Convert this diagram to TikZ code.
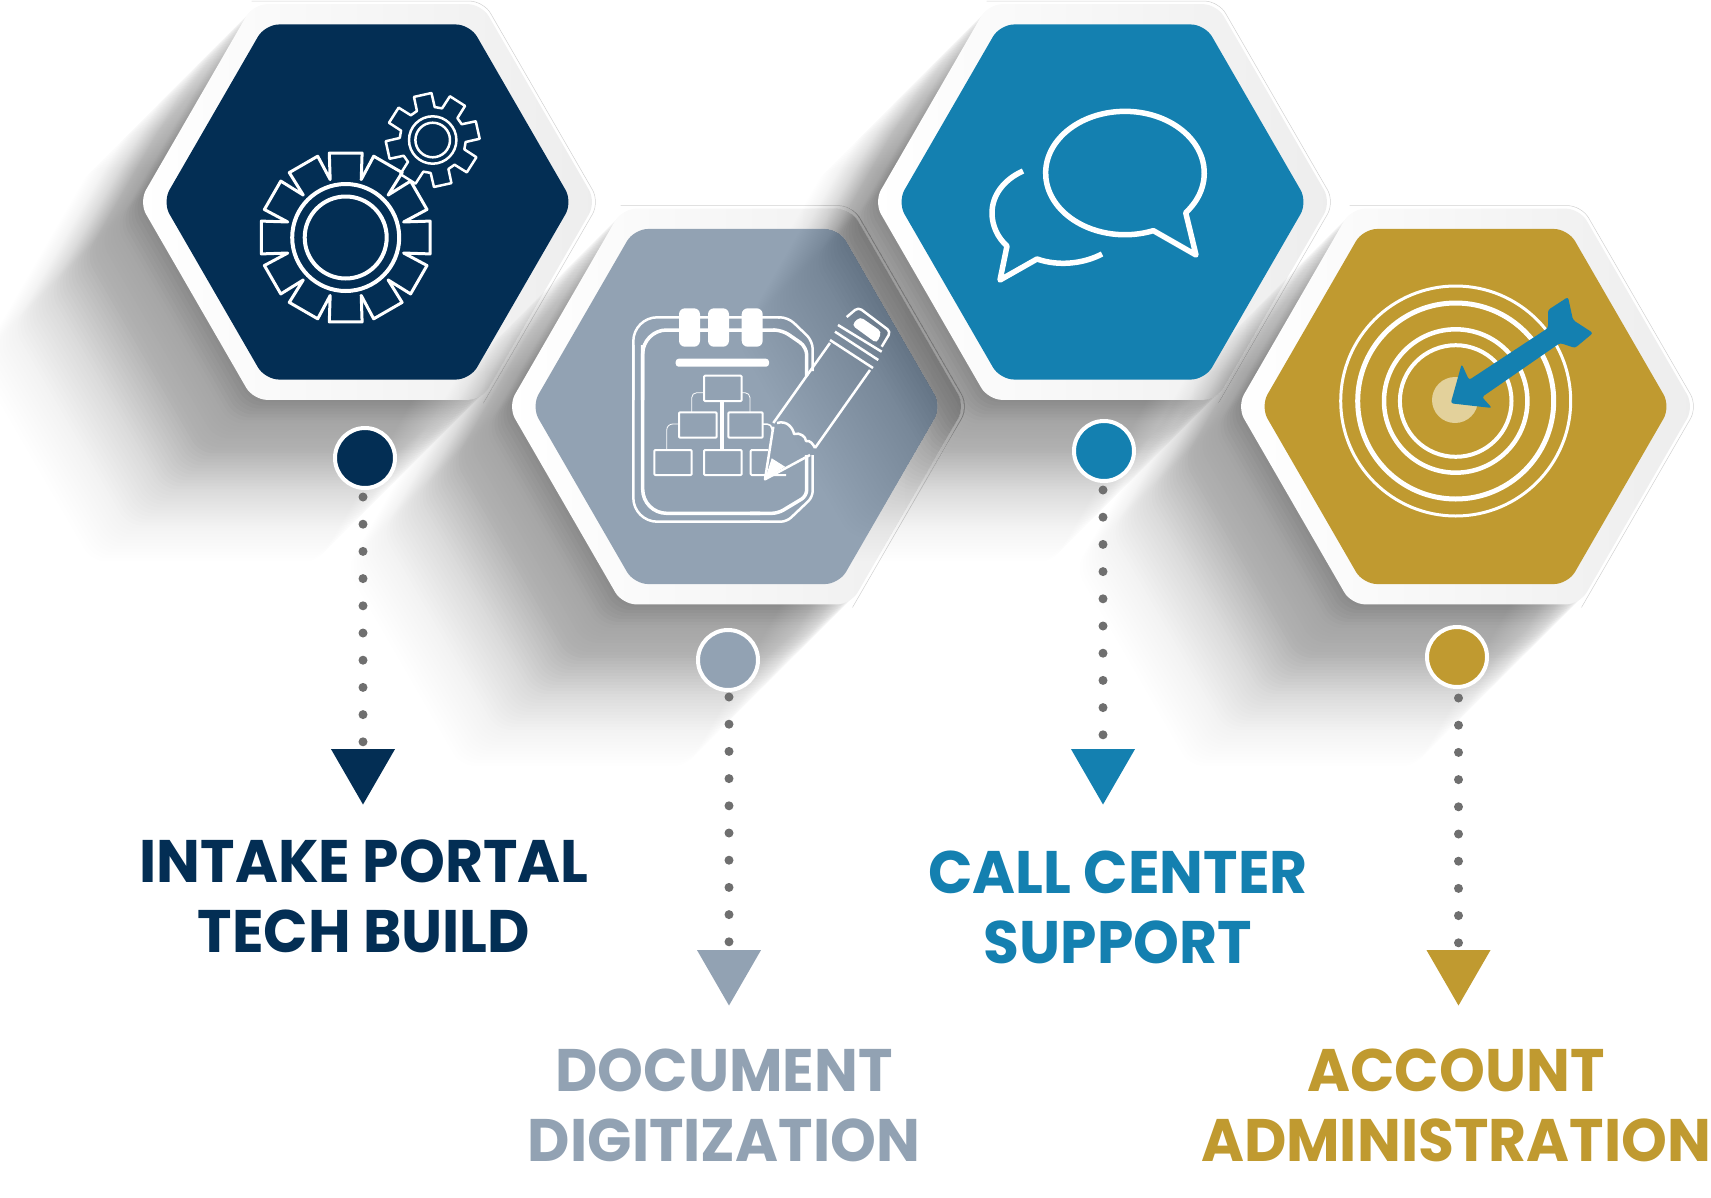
\documentclass[tikz,border=0pt]{standalone}
\usepackage{fontspec}
\setmainfont{Poppins}[FakeStretch=0.972]
\usetikzlibrary{shapes.geometric,positioning}
\definecolor{navyc}{HTML}{032E54}
\definecolor{slatec}{HTML}{92A2B3}
\definecolor{tealc}{HTML}{1480B0}
\definecolor{goldc}{HTML}{C09A30}
\definecolor{greyc}{HTML}{6F6F6F}
\definecolor{bullc}{HTML}{E3D19B}
\newcommand{\hexshadow}[3]{
    \foreach \d [evaluate=\d as \op using #3*(1-\d/180)] in {0,3,...,177}
        \fill[black, opacity=\op, rounded corners=14pt, shift={(#1-\d,#2-\d)}]
            (0:228) -- (60:228) -- (120:228) -- (180:228) -- (240:228) -- (300:228) -- cycle;
}
\newcommand{\hexedge}[2]{
    \draw[black!18, line width=.5pt, rounded corners=14pt, shift={(#1,#2)}]
        (120:232) -- (60:232) -- (0:232) -- (-60:232);
}
\tikzset{
    ringhex/.style={shape=regular polygon, regular polygon sides=6, minimum size=457pt,
        inner sep=0pt, outer sep=0pt, rounded corners=14pt,
        left color=white, right color=black!7},
    fillhex/.style={shape=regular polygon, regular polygon sides=6, minimum size=410pt,
        inner sep=0pt, outer sep=0pt, rounded corners=14pt, fill=#1},
    dotmark/.style={circle, minimum size=60pt, inner sep=0pt, outer sep=0pt,
        draw=white, line width=4pt, fill=#1},
    tipmark/.style={shape=regular polygon, regular polygon sides=3, shape border rotate=180,
        minimum size=74pt, inner sep=0pt, outer sep=0pt, fill=#1},
    labeltext/.style={align=center, inner sep=0pt, text=#1,
        font=\fontsize{60}{70}\selectfont\bfseries},
    dotline/.style={greyc, line width=9pt, line cap=round,
        dash pattern=on 0pt off 27.2pt},
    icon/.style={white, line width=3pt, line join=round},
    orgbox/.style={white, line width=2pt, rounded corners=1pt},
}
\begin{document}
\begin{tikzpicture}[x=1pt, y=1pt]
        \useasboundingbox (0,0) rectangle (1711,-1197);

        \hexshadow{367.5}{-202}{.02}
        \hexedge{367.5}{-202}
        \node[ringhex] (ringA) at (367.5,-202) {};

        \hexshadow{736.5}{-406.5}{.02}
        \hexedge{736.5}{-406.5}
        \node[ringhex] (ringB) at (736.5,-406.5) {};

        \hexshadow{1102.5}{-202}{.02}
        \node[fillhex=slatec] (hexB) at (736.5,-406.5) {};
        \begin{scope}
            \clip[rounded corners=14pt, shift={(736.5,-406.5)}]
                (0:205) -- (60:205) -- (120:205) -- (180:205) -- (240:205) -- (300:205) -- cycle;
            \hexshadow{1102.5}{-202}{.009}
        \end{scope}
        \hexedge{1102.5}{-202}
        \node[ringhex] (ringC) at (1102.5,-202) {};

        \hexshadow{1465.5}{-406.5}{.02}
        \hexedge{1465.5}{-406.5}
        \node[ringhex] (ringD) at (1465.5,-406.5) {};

        \node[fillhex=navyc] (hexA) at (367.5,-202) {};
        \node[fillhex=tealc] (hexC) at (1102.5,-202) {};
        \node[fillhex=goldc] (hexD) at (1465.5,-406.5) {};

        \begin{scope}[shift={(345.7,-237.5)}, icon]
            \draw (-15:60) \foreach \a in {0,30,...,330} {
                -- (\a-11:86) -- (\a+11:86) -- (\a+15:60)} -- cycle;
            \draw[line width=4pt] (0,0) circle (53.5);
            \draw[line width=4pt] (0,0) circle (41);
        \end{scope}
        \begin{scope}[shift={(432.7,-140)}, icon, line width=2.5pt]
            \draw (86.5:33) \foreach \a in {102.5,147.5,...,417.5} {
                -- (\a-11:47) -- (\a+11:47) -- (\a+16:33) -- (\a+29:33)} -- cycle;
            \draw (0,0) circle (23.7);
            \draw (0,0) circle (17.3);
        \end{scope}

        \begin{scope}[icon]
            \draw[rounded corners=24pt, line width=2.5pt] (633.3,-345) -- (633.3,-521.7) -- (760,-521.7);
            \draw[line width=2.5pt, rounded corners=24pt] (633.3,-400) -- (633.3,-317.3) -- (780,-317.3);
            \draw[line width=2.5pt, rounded corners=8pt] (778,-317.3) -- (788,-317.3) -- (812.7,-341) -- (812.7,-371);
            \draw[line width=2.5pt, rounded corners=6pt] (812.7,-455) -- (812.7,-497) -- (786.7,-521.7) -- (750,-521.7);
            \draw[line width=3.5pt, rounded corners=24pt] (642.7,-345) -- (642.7,-513.3) -- (760,-513.3);
            \draw[line width=3.5pt, rounded corners=24pt] (642.7,-400) -- (642.7,-330) -- (775,-330);
            \draw[line width=3.5pt, rounded corners=8pt] (773,-330) -- (782,-330) -- (806.7,-347) -- (806.7,-376);
            \draw[line width=3.5pt, rounded corners=6pt] (806.7,-455) -- (806.7,-496) -- (778,-513.3) -- (750,-513.3);
            \fill[rounded corners=6pt] (679,-308.3) rectangle (700,-346.7);
            \fill[rounded corners=6pt] (708,-308.3) rectangle (729,-346.7);
            \fill[rounded corners=6pt] (741.7,-308.3) rectangle (762.7,-346.7);
            \fill[rounded corners=3pt] (675.7,-358.7) rectangle (769,-366.7);
            \draw[orgbox] (704,-375.7) rectangle (741.7,-401);
            \draw[orgbox] (679,-412.3) rectangle (716.7,-437.7);
            \draw[orgbox] (728.3,-412.3) rectangle (762.7,-437.7);
            \draw[orgbox] (654.3,-450) rectangle (691.7,-475);
            \draw[orgbox] (704,-450) rectangle (741.7,-475);
            \draw[orgbox] (768,-450) -- (750.7,-450) -- (750.7,-475) -- (786,-475);
            \draw[line width=4pt] (722,-401) -- (722,-450);
            \draw[line width=.8pt, rounded corners=5pt] (704,-392.7) -- (691.7,-392.7) -- (691.7,-412.3);
            \draw[line width=.8pt, rounded corners=5pt] (741.7,-392.7) -- (750,-392.7) -- (750,-412.3);
            \draw[line width=.8pt, rounded corners=6pt] (679,-424) -- (666.7,-424) -- (666.7,-450);
            \draw[line width=1.5pt, rounded corners=5pt] (762.7,-424) -- (772,-424) -- (772,-430);
            \draw[line width=2.5pt] (773.3,-423) -- (830,-343);
            \draw[line width=2.5pt] (815,-448) -- (870,-370);
            \draw[line width=2.5pt] (773.3,-426.7) -- (765,-479.3) -- (810,-455);
            \draw[line width=2.5pt] (777,-423) .. controls (787,-420) and (793,-428) .. (794,-434)
                .. controls (800,-432) and (806,-437) .. (806,-441)
                .. controls (810,-440) and (813,-444) .. (815,-448);
            \fill (765,-479.3) -- (771.7,-458.3) -- (785,-466.7) -- cycle;
            \draw[line width=2.5pt] (830,-340) -- (873,-368);
            \draw[line width=2.5pt] (835,-331.7) -- (878.3,-360);
            \draw[line width=2.5pt] (838,-325) -- (881.7,-351.7);
            \draw[line width=2.5pt, rounded corners=4pt] (846.7,-317) -- (858.3,-307.3) -- (890.7,-331.7) -- (881.7,-346.7);
            \fill[rounded corners=4pt] (851.7,-325) -- (860,-316.7) -- (881.7,-331.7) -- (876.7,-343.3) -- cycle;
        \end{scope}

        \begin{scope}[icon, line width=5.5pt, line join=round]
            \draw (1125,-173) ++(60.7,-39.7) arc[start angle=-40, end angle=291, x radius=79.3, y radius=61.7]
                -- (1196,-255) -- cycle;
            \draw (1023,-171) .. controls (1003,-180) and (992,-196) .. (992,-213)
                .. controls (992,-226) and (998,-238) .. (1007,-246)
                -- (1000,-280) -- (1037,-259)
                .. controls (1060,-267) and (1085,-263) .. (1102,-254);
        \end{scope}

        \begin{scope}[shift={(1455.7,-401)}, icon]
            \fill[bullc] (-.7,1) circle (23);
            \draw (0,0) circle (115);
            \draw[line width=5pt] (0,0) circle (98);
            \draw[line width=4.5pt] (0,0) circle (71.7);
            \draw[line width=4pt] (0,0) circle (55.8);
        \end{scope}
        \fill[tealc, rounded corners=2.5pt] (1450.7,-403.3) -- (1461.7,-364) -- (1469,-380)
            -- (1548,-328) -- (1548,-310) -- (1568,-297) -- (1573,-320) -- (1593,-333)
            -- (1575,-348) -- (1560,-343) -- (1482,-397) -- (1492,-408) -- cycle;

        \begin{scope}
            \node[dotmark=navyc] (dotA) at (365,-458) {};
            \node[dotmark=slatec] (dotB) at (728,-660) {};
            \node[dotmark=tealc] (dotC) at (1104,-451) {};
            \node[dotmark=goldc] (dotD) at (1457,-657) {};
            \node[tipmark=navyc] (tipA) at (363,-767.5) {};
            \node[tipmark=slatec] (tipB) at (729,-968.5) {};
            \node[tipmark=tealc] (tipC) at (1103,-767.5) {};
            \node[tipmark=goldc] (tipD) at (1458.5,-968.5) {};
            \node[labeltext=navyc] (labelA) at (364,-896) {INTAKE PORTAL\\TECH BUILD};
            \node[labeltext=slatec] (labelB) at (724,-1105) {DOCUMENT\\DIGITIZATION};
            \node[labeltext=tealc] (labelC) at (1118,-907) {CALL CENTER\\SUPPORT};
            \node[labeltext=goldc] (labelD) at (1456,-1105) {ACCOUNT\\ADMINISTRATION};
        \end{scope}

        \begin{scope}[dotline]
            \draw[shorten <=9pt] (tipA.north |- dotA.south) -- (tipA.north);
            \draw[shorten <=7pt] (tipB.north |- dotB.south) -- (tipB.north);
            \draw[shorten <=9pt] (tipC.north |- dotC.south) -- (tipC.north);
            \draw[shorten <=11pt] (tipD.north |- dotD.south) -- (tipD.north);
        \end{scope}

        \end{tikzpicture}
\end{document}
